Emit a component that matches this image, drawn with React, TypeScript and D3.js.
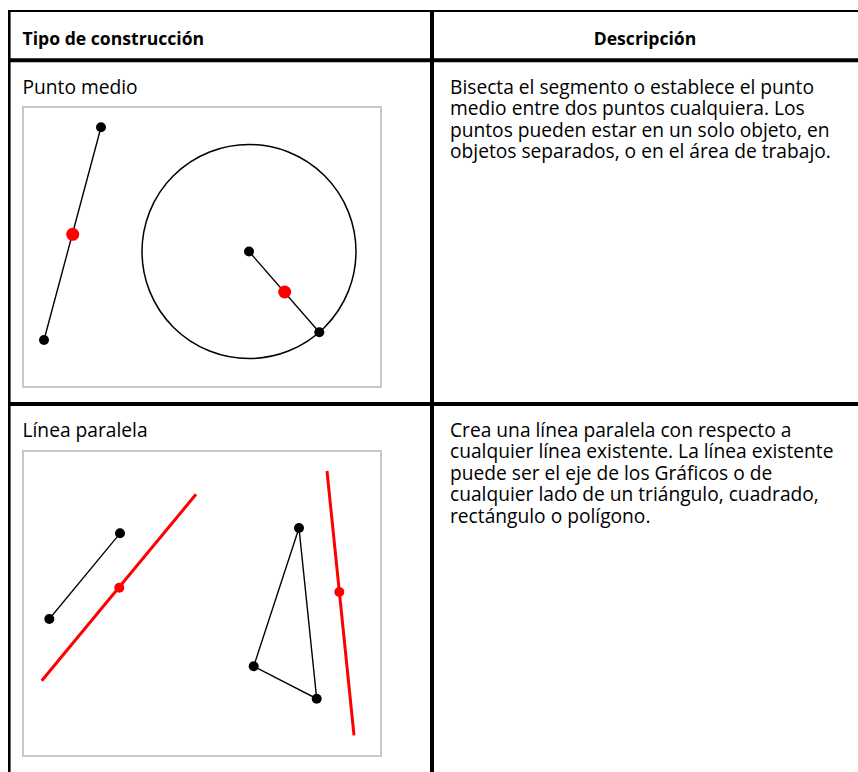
import React from 'react';
import * as d3 from 'd3';

// table text
const headers = ['Tipo de construcción', 'Descripción'];
const rowTitles = ['Punto medio', 'Línea paralela'];
const rowDescriptions = [
  [
    'Bisecta el segmento o establece el punto',
    'medio entre dos puntos cualquiera. Los',
    'puntos pueden estar en un solo objeto, en',
    'objetos separados, o en el área de trabajo.',
  ],
  [
    'Crea una línea paralela con respecto a',
    'cualquier línea existente. La línea existente',
    'puede ser el eje de los Gráficos o de',
    'cualquier lado de un triángulo, cuadrado,',
    'rectángulo o polígono.',
  ],
];

// diagram 1 (punto medio), in diagram units, origin top-left of the box
const mpSegment = [[78, 20.3], [21, 233]];
const mpSegmentMid = [49.7, 127.3];
const mpCircleCenter = [226, 144.5];
const mpCircleRadius = 107;
const mpCirclePoint = [296.3, 225.3];
const mpRadiusMid = [261.7, 185];

// diagram 2 (línea paralela)
const plSegment = [[97, 82.3], [26.3, 168]];
const plParallel = [[18.7, 229.7], [173, 43.3]];
const plParallelPoint = [96.3, 136.7];
const plTriangle = [[276, 77], [230.7, 215.3], [293.7, 247.7]];
const plParallel2 = [[304, 20], [331, 284.3]];
const plParallel2Point = [316.3, 141];

const W = 858;
const H = 772;
const font = '"Open Sans", sans-serif';
const RED = '#ff0000';

const Dot = ({ p, x, y, r, fill }) => <circle cx={x(p[0])} cy={y(p[1])} r={r} fill={fill} />;

const Seg = ({ a, b, x, y, stroke, w }) => (
  <line x1={x(a[0])} y1={y(a[1])} x2={x(b[0])} y2={y(b[1])} stroke={stroke} strokeWidth={w} />
);

export default function App() {
  const box1 = { x: 23, y: 107, w: 358, h: 280 };
  const box2 = { x: 23, y: 451, w: 358, h: 305 };

  const x1 = d3.scaleLinear().domain([0, box1.w]).range([box1.x, box1.x + box1.w]);
  const y1 = d3.scaleLinear().domain([0, box1.h]).range([box1.y, box1.y + box1.h]);
  const x2 = d3.scaleLinear().domain([0, box2.w]).range([box2.x, box2.x + box2.w]);
  const y2 = d3.scaleLinear().domain([0, box2.h]).range([box2.y, box2.y + box2.h]);

  const tri = d3.line().x(d => x2(d[0])).y(d => y2(d[1]));

  const bodySize = 19.2;
  const lineH = 21.4;
  const rowTops = [94, 437];

  return (
    <svg
      width={W}
      height={H}
      style={{ position: 'absolute', left: 0, top: 0, background: '#fff' }}
      fontFamily={font}
    >
      <rect width={W} height={H} fill="#fff" />

      {/* table rules */}
      <line x1={8} x2={W} y1={11} y2={11} stroke="#000" strokeWidth={2} />
      <line x1={9.3} x2={9.3} y1={10} y2={H} stroke="#000" strokeWidth={2.6} />
      <line x1={8} x2={W} y1={60.3} y2={60.3} stroke="#000" strokeWidth={4} />
      <line x1={8} x2={W} y1={404} y2={404} stroke="#000" strokeWidth={4} />
      <line x1={432} x2={432} y1={10} y2={H} stroke="#000" strokeWidth={4} />

      {/* headers */}
      <text x={22.5} y={45} fontSize={17.6} fontWeight="bold" fill="#000">{headers[0]}</text>
      <text x={645} y={45} fontSize={17.6} fontWeight="bold" fill="#000" textAnchor="middle">{headers[1]}</text>

      {/* row texts */}
      {rowTitles.map((t, i) => (
        <text key={t} x={22.5} y={rowTops[i]} fontSize={bodySize} fill="#000">{t}</text>
      ))}
      {rowDescriptions.map((lines, i) => (
        <text key={i} x={450} y={rowTops[i]} fontSize={bodySize} fill="#000">
          {lines.map((l, j) => (
            <tspan key={j} x={450} y={rowTops[i] + j * lineH}>{l}</tspan>
          ))}
        </text>
      ))}

      {/* diagram boxes */}
      {[box1, box2].map((b, i) => (
        <rect key={i} x={b.x} y={b.y} width={b.w} height={b.h} fill="#fff" stroke="#c8c8c8" strokeWidth={2} />
      ))}

      {/* punto medio */}
      <Seg a={mpSegment[0]} b={mpSegment[1]} x={x1} y={y1} stroke="#000" w={1.4} />
      <circle cx={x1(mpCircleCenter[0])} cy={y1(mpCircleCenter[1])} r={mpCircleRadius} fill="none" stroke="#000" strokeWidth={1.5} />
      <Seg a={mpCircleCenter} b={mpCirclePoint} x={x1} y={y1} stroke="#000" w={1.4} />
      {mpSegment.map((p, i) => <Dot key={i} p={p} x={x1} y={y1} r={5} fill="#000" />)}
      <Dot p={mpCircleCenter} x={x1} y={y1} r={5} fill="#000" />
      <Dot p={mpCirclePoint} x={x1} y={y1} r={5} fill="#000" />
      <Dot p={mpSegmentMid} x={x1} y={y1} r={6.5} fill={RED} />
      <Dot p={mpRadiusMid} x={x1} y={y1} r={6.5} fill={RED} />

      {/* línea paralela */}
      <Seg a={plSegment[0]} b={plSegment[1]} x={x2} y={y2} stroke="#000" w={1.3} />
      <Seg a={plParallel[0]} b={plParallel[1]} x={x2} y={y2} stroke={RED} w={3} />
      <path d={tri([...plTriangle, plTriangle[0]])} fill="none" stroke="#000" strokeWidth={1.4} />
      <Seg a={plParallel2[0]} b={plParallel2[1]} x={x2} y={y2} stroke={RED} w={3} />
      {plSegment.map((p, i) => <Dot key={i} p={p} x={x2} y={y2} r={5} fill="#000" />)}
      {plTriangle.map((p, i) => <Dot key={'t' + i} p={p} x={x2} y={y2} r={5} fill="#000" />)}
      <Dot p={plParallelPoint} x={x2} y={y2} r={5} fill={RED} />
      <Dot p={plParallel2Point} x={x2} y={y2} r={5} fill={RED} />
    </svg>
  );
}
